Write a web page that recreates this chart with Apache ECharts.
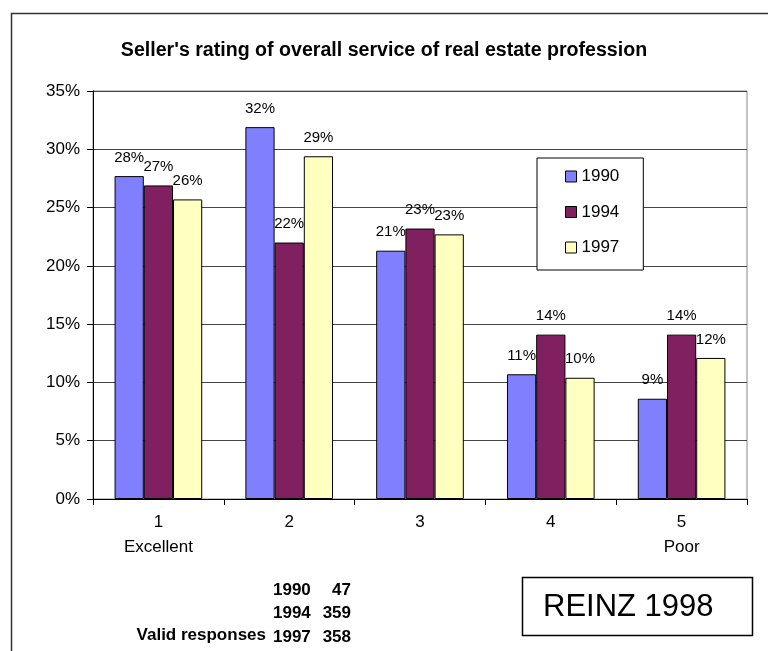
<!DOCTYPE html>
<html>
<head>
<meta charset="utf-8">
<script src="https://cdn.jsdelivr.net/npm/echarts@6/dist/echarts.min.js"></script>
<style>
  html, body { margin: 0; padding: 0; background: #fff; }
  #main { width: 768px; height: 651px; }
</style>
</head>
<body>
<div id="main"></div>
<script>
// rating categories (1 = Excellent ... 5 = Poor)
var categories = ['1\nExcellent', '2', '3', '4', '5\nPoor'];
var years = ['1990', '1994', '1997'];
// percent of sellers
var v1990 = [27.7, 31.9, 21.3, 10.7, 8.6];
var v1994 = [26.9, 22.0, 23.2, 14.1, 14.1];
var v1997 = [25.7, 29.4, 22.7, 10.4, 12.1];
var yTicks = [0, 5, 10, 15, 20, 25, 30, 35];
// valid responses per survey year
var respYears = ['1990', '1994', '1997'];
var respCounts = [47, 359, 358];

var colors = ['#8080ff', '#802060', '#ffffc0'];
var FONT = '"Liberation Sans", Arial, sans-serif';

var chart = echarts.init(document.getElementById('main'));

function barSeries(name, data, i) {
    return {
        name: name,
        type: 'bar',
        data: data,
        barGap: '0%',
        barCategoryGap: '33%',
        itemStyle: { color: colors[i], borderColor: '#000', borderWidth: 1 },
        label: {
            show: true,
            position: 'top',
            distance: 11,
            color: '#000',
            fontFamily: FONT,
            fontSize: 15,
            formatter: function (p) { return Math.round(p.value) + '%'; }
        },
        emphasis: { disabled: true }
    };
}

// bottom notes: valid responses table
var notes = [];
respYears.forEach(function (y, k) {
    var cy = 590 + k * 23.5;
    notes.push({
        type: 'text', x: 273, y: cy,
        style: { text: y, fill: '#000', font: 'bold 17px ' + FONT, textVerticalAlign: 'middle' }
    });
    notes.push({
        type: 'text', x: 351, y: cy,
        style: { text: String(respCounts[k]), fill: '#000', font: 'bold 17px ' + FONT, textAlign: 'right', textVerticalAlign: 'middle' }
    });
});
notes.push({
    type: 'text', x: 266, y: 635,
    style: { text: 'Valid responses', fill: '#000', font: 'bold 17px ' + FONT, textAlign: 'right', textVerticalAlign: 'middle' }
});

chart.setOption({
    animation: false,
    backgroundColor: '#fff',
    title: {
        text: "Seller's rating of overall service of real estate profession",
        left: 'center',
        top: 36,
        textStyle: { fontFamily: FONT, fontWeight: 'bold', fontSize: 19.6, color: '#000' }
    },
    legend: {
        data: years,
        orient: 'vertical',
        left: 537,
        top: 158,
        padding: [10, 24, 14, 28],
        itemGap: 18.5,
        itemWidth: 11,
        itemHeight: 11,
        icon: 'rect',
        backgroundColor: '#fff',
        borderColor: '#000',
        borderWidth: 1,
        borderRadius: 0,
        itemStyle: { borderColor: '#000', borderWidth: 1 },
        textStyle: { fontFamily: FONT, fontSize: 17, color: '#000' }
    },
    grid: {
        left: 93, right: 21, top: 91, bottom: 152,
        show: true, borderColor: '#888', borderWidth: 1
    },
    xAxis: {
        type: 'category',
        data: categories,
        axisLine: { lineStyle: { color: '#000', width: 1 } },
        axisTick: { show: true, length: 6, lineStyle: { color: '#000' } },
        axisLabel: {
            color: '#000', fontFamily: FONT, fontSize: 17,
            lineHeight: 25, margin: 11
        }
    },
    yAxis: {
        type: 'value',
        min: yTicks[0],
        max: yTicks[yTicks.length - 1],
        interval: 5,
        axisLine: { show: true, lineStyle: { color: '#000', width: 1 } },
        axisTick: { show: true, length: 6, lineStyle: { color: '#000' } },
        axisLabel: {
            color: '#000', fontFamily: FONT, fontSize: 17, margin: 13,
            formatter: '{value}%'
        },
        splitLine: { show: true, lineStyle: { color: '#444', width: 1 } }
    },
    series: [
        barSeries(years[0], v1990, 0),
        barSeries(years[1], v1994, 1),
        barSeries(years[2], v1997, 2)
    ],
    graphic: [
        // outer frame, runs off the right and bottom edges
        {
            type: 'rect', left: 9, top: 11, z: -10,
            shape: { x: 0, y: 0, width: 800, height: 700 },
            style: { fill: null, stroke: '#333', lineWidth: 1.5 }
        },
        // source box
        {
            type: 'rect', z: 10,
            shape: { x: 522.5, y: 577.5, width: 230, height: 58 },
            style: { fill: '#fff', stroke: '#000', lineWidth: 1.5 }
        },
        {
            type: 'text', x: 543, y: 607, z: 11,
            style: { text: 'REINZ 1998', fill: '#000', font: '31px ' + FONT, textVerticalAlign: 'middle' }
        }
    ].concat(notes)
});
</script>
</body>
</html>
